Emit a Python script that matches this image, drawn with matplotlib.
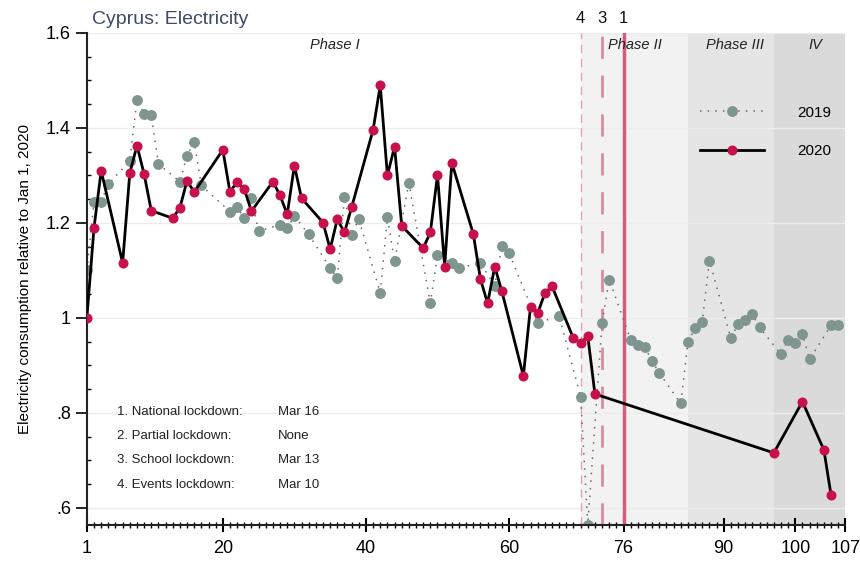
import numpy as np
import matplotlib.pyplot as plt
from matplotlib.ticker import MultipleLocator
import matplotlib.transforms as mtransforms

plt.rcParams['font.family'] = ['Liberation Sans', 'DejaVu Sans']

# day of year (Jan 1 = 1) and consumption relative to Jan 1, 2020
days_2020 = [1, 2, 3, 6, 7, 8, 9, 10, 13, 14, 15, 16, 20, 21, 22, 23, 24, 27, 28, 29,
             30, 31, 34, 35, 36, 37, 38, 41, 42, 43, 44, 45, 48, 49, 50, 51, 52, 55, 56, 57,
             58, 59, 62, 63, 64, 65, 66, 69, 70, 71, 72, 97, 101, 104, 105]
vals_2020 = [1.0, 1.19, 1.31, 1.116, 1.305, 1.363, 1.303, 1.226, 1.21, 1.232, 1.289, 1.265,
             1.354, 1.265, 1.287, 1.271, 1.225, 1.287, 1.258, 1.218, 1.321, 1.252, 1.201,
             1.145, 1.208, 1.18, 1.233, 1.396, 1.49, 1.30, 1.361, 1.194, 1.147, 1.18, 1.301,
             1.108, 1.327, 1.177, 1.082, 1.031, 1.108, 1.056, 0.878, 1.024, 1.01, 1.052,
             1.067, 0.957, 0.947, 0.962, 0.84, 0.716, 0.824, 0.722, 0.627]

days_2019 = [1, 2, 3, 4, 7, 8, 9, 10, 11, 14, 15, 16, 17, 21, 22, 23, 24, 25, 28, 29,
             30, 32, 35, 36, 37, 38, 39, 42, 43, 44, 46, 49, 50, 52, 53, 56, 58, 59, 60, 64,
             67, 70, 71, 73, 74, 77, 78, 79, 80, 81, 84, 85, 86, 87, 88, 91, 92, 93, 94, 95,
             98, 99, 100, 101, 102, 105, 106]
vals_2019 = [1.10, 1.245, 1.245, 1.282, 1.331, 1.459, 1.43, 1.427, 1.324, 1.287, 1.342,
             1.371, 1.279, 1.224, 1.233, 1.21, 1.252, 1.183, 1.196, 1.189, 1.215, 1.176,
             1.105, 1.084, 1.255, 1.175, 1.208, 1.053, 1.212, 1.119, 1.284, 1.031, 1.133,
             1.115, 1.105, 1.116, 1.068, 1.152, 1.137, 0.99, 1.004, 0.834, 0.565, 0.99,
             1.081, 0.954, 0.943, 0.938, 0.909, 0.884, 0.82, 0.95, 0.978, 0.992, 1.121,
             0.957, 0.987, 0.995, 1.008, 0.98, 0.924, 0.954, 0.948, 0.966, 0.913, 0.985,
             0.985]

phase_names = ['Phase I', 'Phase II', 'Phase III', 'IV']
phase_text_x = [35.7, 77.6, 91.6, 102.8]
phase_bounds = [(70, 85), (85, 97), (97, 107)]
phase_colors = ['#f2f2f2', '#e5e5e5', '#dadada']

lockdown_days = [70, 73, 76]
lockdown_nums = ['4', '3', '1']
lockdown_rows = [('1. National lockdown:', 'Mar 16'),
                 ('2. Partial lockdown:', 'None'),
                 ('3. School lockdown:', 'Mar 13'),
                 ('4. Events lockdown:', 'Mar 10')]

fig = plt.figure(figsize=(8.6, 5.64), dpi=100)
ax = fig.add_axes([0.101, 0.069, 0.882, 0.8725])

for (a, b), c in zip(phase_bounds, phase_colors):
    ax.axvspan(a, b, color=c, lw=0, zorder=0)

ax.yaxis.grid(True, color='#ececec', lw=1, zorder=0.5)
ax.set_axisbelow(True)

ax.axvline(lockdown_days[0], color='#e3a3b3', lw=1, ls=(0, (6, 4)), zorder=1)
ax.axvline(lockdown_days[1], color='#d88ca0', lw=2, ls=(0, (8, 6)), zorder=1)
ax.axvline(lockdown_days[2], color='#d05f7c', lw=2.5, zorder=1)

trans = mtransforms.blended_transform_factory(ax.transData, ax.transAxes)
for d, n in zip(lockdown_days, lockdown_nums):
    ax.text(d, 1.03, n, transform=trans, ha='center', va='center', fontsize=12, color='#111111')

ax.plot(days_2019, vals_2019, ls=(0, (1, 4)), lw=1.1, color='#6a6a6a',
        marker='o', ms=6.8, mfc='#7f958f', mec='#7f958f', label='2019', zorder=2)
ax.plot(days_2020, vals_2020, color='black', lw=2, marker='o', ms=6.2,
        mfc='#c8104a', mec='#c8104a', label='2020', zorder=3)

for x, name in zip(phase_text_x, phase_names):
    ax.text(x, 1.575, name, ha='center', va='center', fontsize=10.5, style='italic', color='#222222')

for i, (lab, date) in enumerate(lockdown_rows):
    y = 0.802 - i * 0.051
    ax.text(5.2, y, lab, fontsize=9.5, va='center', color='#222222')
    ax.text(27.7, y, date, fontsize=9.5, va='center', color='#222222')

leg = ax.legend(loc='upper left', bbox_to_anchor=(0.79, 0.88), frameon=False,
                handlelength=4.2, handletextpad=2.2, labelspacing=1.6, fontsize=11)

ax.set_xlim(1, 107)
ax.set_ylim(0.564, 1.6)
ax.set_xticks([1, 20, 40, 60, 76, 90, 100, 107])
ax.xaxis.set_minor_locator(MultipleLocator(1))
ax.set_yticks([0.6, 0.8, 1.0, 1.2, 1.4, 1.6])
ax.set_yticklabels(['.6', '.8', '1', '1.2', '1.4', '1.6'])
ax.yaxis.set_minor_locator(MultipleLocator(0.05))

ax.tick_params(axis='x', which='major', direction='inout', length=10, width=1.5, labelsize=13, pad=6)
ax.tick_params(axis='x', which='minor', direction='inout', length=4, width=1)
ax.tick_params(axis='y', which='major', direction='out', length=8, width=1.2, labelsize=13)
ax.tick_params(axis='y', which='minor', direction='in', length=3, width=1)

for s in ['top', 'right']:
    ax.spines[s].set_visible(False)
for s in ['left', 'bottom']:
    ax.spines[s].set_linewidth(1.5)
    ax.spines[s].set_color('#222222')

ax.set_ylabel('Electricity consumption relative to Jan 1, 2020', fontsize=11, labelpad=10)

fig.text(92 / 860, 1 - 20 / 564, 'Cyprus: Electricity', fontsize=14, color='#3d4a6b', va='center')

fig.savefig('out.png', dpi=100)
